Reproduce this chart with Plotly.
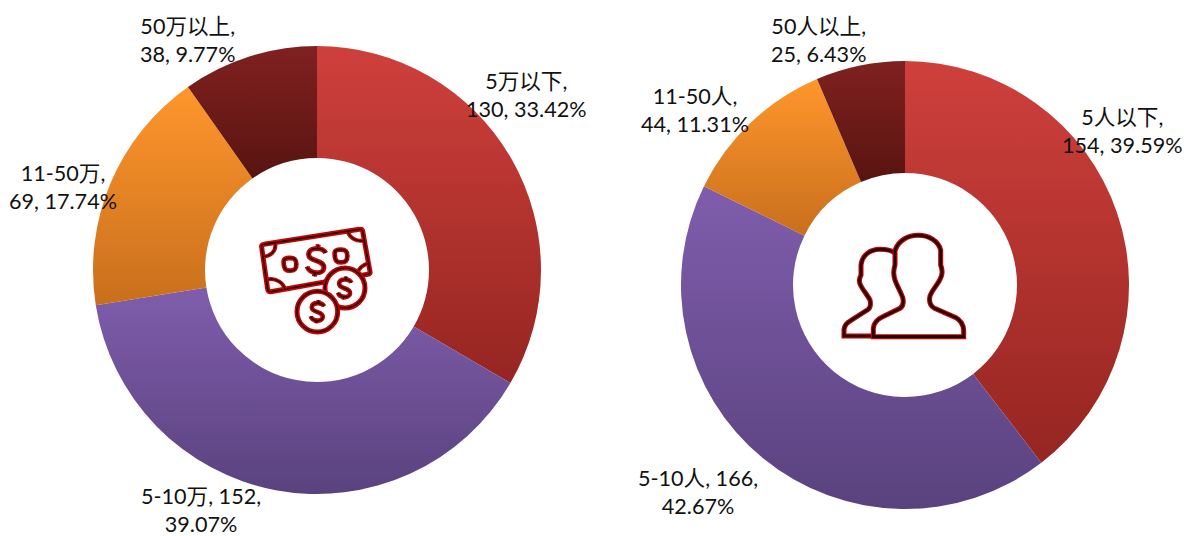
import plotly.graph_objects as go

W, H = 1184, 536

# ---- data ----
income_categories = ["5万以下", "5-10万", "11-50万", "50万以上"]
income_values = [130, 152, 69, 38]
staff_categories = ["5人以下", "5-10人", "11-50人", "50人以上"]
staff_values = [154, 166, 44, 25]

# ---- style ----
TOP = ["#CF403C", "#7F5DAC", "#FF962C", "#802120"]
BOTTOM = ["#952521", "#5A427E", "#C86F1D", "#581410"]
MID = ["#B23330", "#6C4F95", "#E38325", "#6C1A18"]
FONT = "Lato, 'Noto Sans CJK SC', sans-serif"
RED = "#CC0000"
CORE = "#1a0505"


def dom(x0, x1, ytop, ybot):
    return dict(x=[x0 / W, x1 / W], y=[1 - ybot / H, 1 - ytop / H])


def pie(cats, vals, domain):
    return go.Pie(
        labels=cats, values=vals, domain=domain, hole=0.5, sort=False,
        direction="clockwise", rotation=0, textinfo="none", hoverinfo="skip",
        marker=dict(colors=MID, line=dict(width=0)), showlegend=False,
    )


fig = go.Figure([
    pie(income_categories, income_values, dom(93, 541, 46, 494)),
    pie(staff_categories, staff_values, dom(681, 1129, 61, 509)),
])


def label(cats, vals, i):
    pct = f"{vals[i] / sum(vals) * 100:.2f}%"
    if i == 1:
        return f"{cats[i]}, {vals[i]},<br>{pct}"
    return f"{cats[i]},<br>{vals[i]}, {pct}"


label_px = [
    (income_categories, income_values, [(526, 95), (201, 510), (63, 187), (187, 40)]),
    (staff_categories, staff_values, [(1122, 131), (698, 492), (695, 110), (818, 40)]),
]
annotations = []
for cats, vals, spots in label_px:
    for i, (px, py) in enumerate(spots):
        annotations.append(dict(
            text=label(cats, vals, i), x=px / W, y=1 - py / H, xref="paper", yref="paper",
            xanchor="center", yanchor="middle", showarrow=False, align="center",
            font=dict(family=FONT, size=21.6, color="#111111"),
        ))


# ---- icons: outlines written in a local pixel grid, mapped to paper ----
def path(cmds, ox, oy, k=1 / 3):
    out = []
    for c in cmds:
        if isinstance(c, str):
            out.append(c)
        else:
            out.append(f"{(ox + c[0] * k) / W:.5f},{1 - (oy + c[1] * k) / H:.5f}")
    return " ".join(out)


shapes = []


def stroke(d, w_out, w_in, fill=None):
    shapes.append(dict(type="path", path=d, xref="paper", yref="paper",
                       fillcolor=fill or "rgba(0,0,0,0)", line=dict(color=RED, width=w_out)))
    shapes.append(dict(type="path", path=d, xref="paper", yref="paper",
                       fillcolor="rgba(0,0,0,0)", line=dict(color=CORE, width=w_in)))


def circle_path(cx, cy, r):
    c = 0.5523 * r
    return ["M", (cx - r, cy), "C", (cx - r, cy - c), (cx - c, cy - r), (cx, cy - r),
            "C", (cx + c, cy - r), (cx + r, cy - c), (cx + r, cy),
            "C", (cx + r, cy + c), (cx + c, cy + r), (cx, cy + r),
            "C", (cx - c, cy + r), (cx - r, cy + c), (cx - r, cy), "Z"]


def dollar(cx, cy, s):
    def p(x, y):
        return (cx + x * s - y * s * 0.12, cy + y * s + x * s * 0.12)
    return ["M", p(25, -25), "C", p(17, -40), p(-25, -40), p(-25, -16),
            "C", p(-25, 8), p(25, -6), p(25, 20), "C", p(25, 42), p(-17, 42), p(-25, 22),
            "M", p(0, -48), "L", p(0, -35), "M", p(0, 36), "L", p(0, 48)]


def blob(cx, cy, r):
    a = r * 0.95
    b = r * 0.45
    return ["M", (cx - a, cy - b), "C", (cx - a, cy - a), (cx - b, cy - a), (cx, cy - a),
            "C", (cx + b, cy - a), (cx + a, cy - a), (cx + a, cy),
            "C", (cx + a, cy + a), (cx + b, cy + a), (cx, cy + a),
            "C", (cx - b, cy + a), (cx - a, cy + a), (cx - a, cy - b), "Z"]


MX, MY = 240, 210
bill = ["M", (92, 245), "C", (87, 246), (84, 243), (83, 238), "L", (65, 112),
        "C", (64, 107), (67, 104), (72, 103), "L", (358, 58), "C", (363, 57), (367, 59), (368, 64),
        "L", (390, 185), "C", (391, 190), (388, 192), (383, 193), "Z"]
stroke(path(bill, MX, MY), 5.0, 1.6, "#ffffff")
for arc in [
    ["M", (71, 140), "C", (92, 138), (108, 124), (106, 103)],
    ["M", (85, 208), "C", (108, 204), (130, 218), (135, 238)],
    ["M", (324, 67), "C", (330, 84), (350, 95), (369, 92)],
    ["M", (352, 190), "C", (356, 177), (368, 165), (384, 160)],
]:
    stroke(path(arc, MX, MY), 4.0, 1.3)
stroke(path(blob(150, 163, 20), MX, MY), 4.8, 1.6)
stroke(path(blob(303, 138, 20), MX, MY), 4.8, 1.6)
stroke(path(dollar(229, 151, 1.0), MX, MY), 5.0, 1.6)
stroke(path(circle_path(315, 234, 60), MX, MY), 5.0, 1.6, "#ffffff")
stroke(path(dollar(314, 234, 0.72), MX, MY), 4.6, 1.5)
stroke(path(circle_path(232, 305, 61), MX, MY), 5.0, 1.6, "#ffffff")
stroke(path(dollar(232, 305, 0.72), MX, MY), 4.6, 1.5)

PX, PY = 830, 220
back = ["M", (130, 348), "L", (42, 348), "L", (42, 328), "C", (44, 315), (52, 307), (62, 302),
        "L", (115, 268), "C", (122, 262), (122, 250), (120, 240), "C", (112, 225), (100, 212), (93, 198),
        "C", (88, 190), (86, 178), (93, 165), "L", (93, 135), "C", (97, 105), (120, 88), (150, 88),
        "C", (168, 88), (185, 90), (196, 100)]
front = ["M", (130, 348), "L", (130, 325), "C", (132, 308), (142, 298), (155, 292),
         "L", (210, 265), "C", (220, 258), (222, 248), (218, 232), "C", (210, 212), (200, 195), (195, 180),
         "C", (190, 165), (190, 150), (195, 135), "L", (195, 92), "C", (205, 60), (235, 46), (265, 46),
         "C", (295, 46), (325, 62), (332, 90), "L", (332, 135), "C", (338, 150), (338, 165), (330, 178),
         "C", (322, 195), (305, 212), (300, 228), "C", (297, 242), (298, 255), (312, 264),
         "L", (378, 293), "C", (392, 302), (400, 315), (401, 330), "L", (401, 350), "L", (130, 350), "Z"]
stroke(path(back, PX, PY), 5.0, 2.6)
stroke(path(front, PX, PY), 5.0, 2.6, "#ffffff")

fig.update_layout(
    width=W, height=H, margin=dict(l=0, r=0, t=0, b=0), autosize=False,
    paper_bgcolor="#ffffff", plot_bgcolor="#ffffff",
    annotations=annotations, shapes=shapes,
)

stops = ",".join(f"['{a}','{b}']" for a, b in zip(TOP, BOTTOM))
post = """
document.documentElement.style.margin = '0';
document.body.style.margin = '0';
document.body.style.overflow = 'hidden';
var gd = document.getElementById('{plot_id}');
var cols = [%s];
function paint() {
  var svg = gd.querySelector('.main-svg');
  if (!svg) return;
  var NS = 'http://www.w3.org/2000/svg';
  var defs = svg.querySelector('defs');
  cols.forEach(function (c, i) {
    var id = 'slicegrad' + i;
    if (!document.getElementById(id)) {
      var g = document.createElementNS(NS, 'linearGradient');
      g.setAttribute('id', id);
      g.setAttribute('x1', '0'); g.setAttribute('y1', '0');
      g.setAttribute('x2', '0'); g.setAttribute('y2', '1');
      [[0, c[0]], [1, c[1]]].forEach(function (s) {
        var st = document.createElementNS(NS, 'stop');
        st.setAttribute('offset', s[0]);
        st.setAttribute('stop-color', s[1]);
        g.appendChild(st);
      });
      defs.appendChild(g);
    }
  });
  gd.querySelectorAll('.trace.pie, g.pielayer > g').forEach(function (t) {
    t.querySelectorAll('.slice path.surface').forEach(function (p, i) {
      p.style.fill = 'url(#slicegrad' + i + ')';
    });
  });
}
paint();
setTimeout(paint, 50);
if (gd.on) gd.on('plotly_afterplot', paint);
""" % stops

fig.write_html("out.html", post_script=post, config=dict(displayModeBar=False))
